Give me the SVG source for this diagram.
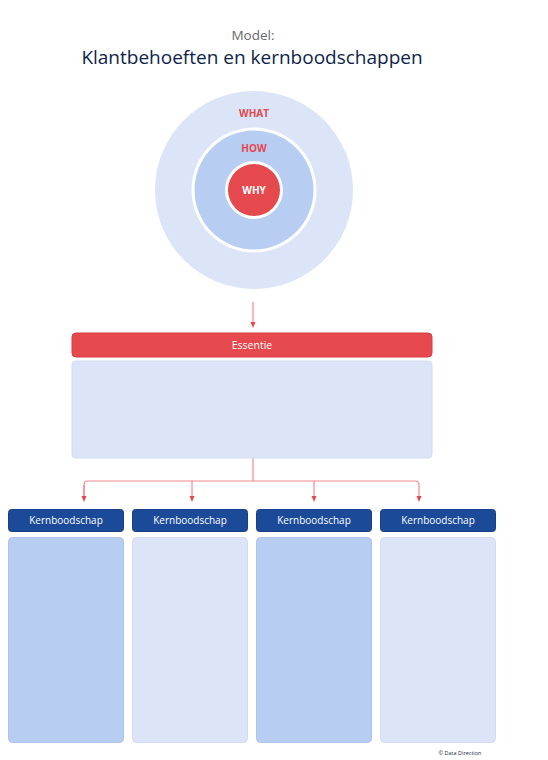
<svg xmlns="http://www.w3.org/2000/svg" width="548" height="760" viewBox="0 0 548 760">
<defs>
<style>
.t{font-family:"Open Sans","Noto Sans","Liberation Sans",sans-serif}
.lbl{font-family:"Open Sans","Noto Sans","Liberation Sans",sans-serif;font-weight:bold;font-size:10px;text-anchor:middle;fill:#e5484d}
.kh{fill:#1b4a98;stroke:#163f85;stroke-width:1}
.kt{font-family:"Open Sans","Noto Sans","Liberation Sans",sans-serif;font-size:10px;fill:#ffffff;text-anchor:middle}
.light{fill:#dbe5f7;stroke:#d0dcf2;stroke-width:1}
.mid{fill:#b8cdf2;stroke:#adc3ec;stroke-width:1}
.con{fill:none;stroke:#f0898c;stroke-width:1.2}
</style>
<marker id="ah" markerWidth="6" markerHeight="6" refX="3" refY="3" orient="auto" markerUnits="userSpaceOnUse">
<path d="M0,0.5 L6,3 L0,5.5 Z" fill="#e5484d"/>
</marker>
</defs>
<rect width="548" height="760" fill="#ffffff"/>
<g id="title">
<text class="t" x="253" y="40" font-size="13.5" fill="#666a70" text-anchor="middle">Model:</text>
<text class="t" x="252" y="64" font-size="19" fill="#0f1f4b" text-anchor="middle">Klantbehoeften en kernboodschappen</text>
</g>
<g id="circles">
<circle cx="254" cy="190" r="99" fill="#dbe5f7"/>
<circle cx="254" cy="190" r="62.5" fill="#ffffff"/>
<circle cx="254" cy="190" r="59.5" fill="#b8cdf2"/>
<circle cx="254" cy="190" r="29" fill="#ffffff"/>
<circle cx="254" cy="190" r="26" fill="#e5484d"/>
<text class="lbl" x="254" y="117">WHAT</text>
<text class="lbl" x="254" y="152">HOW</text>
<text class="lbl" x="254" y="194" style="fill:#ffffff">WHY</text>
</g>
<g id="connectors">
<line class="con" x1="253" y1="302" x2="253" y2="325" marker-end="url(#ah)"/>
<path class="con" d="M253,458 V481"/>
<path class="con" d="M84,499 V485 Q84,481 88,481 H415 Q419,481 419,485 V499" marker-end="url(#ah)"/>
<path class="con" d="M84,485 V499" marker-end="url(#ah)"/>
<line class="con" x1="192" y1="481" x2="192" y2="499" marker-end="url(#ah)"/>
<line class="con" x1="314" y1="481" x2="314" y2="499" marker-end="url(#ah)"/>
</g>
<g id="essentie">
<rect x="72" y="333" width="360" height="24" rx="4" fill="#e5484d" stroke="#d83c42" stroke-width="1"/>
<text class="t" x="252" y="349" font-size="10.5" fill="#ffffff" text-anchor="middle">Essentie</text>
<rect class="light" x="72" y="361" width="360" height="97" rx="4"/>
</g>
<g id="k1">
<rect class="kh" x="8.5" y="509.5" width="115" height="22" rx="3"/>
<text class="kt" x="66" y="524">Kernboodschap</text>
<rect class="mid" x="8.5" y="537.5" width="115" height="205" rx="4"/>
</g>
<g id="k2">
<rect class="kh" x="132.5" y="509.5" width="115" height="22" rx="3"/>
<text class="kt" x="190" y="524">Kernboodschap</text>
<rect class="light" x="132.5" y="537.5" width="115" height="205" rx="4"/>
</g>
<g id="k3">
<rect class="kh" x="256.5" y="509.5" width="115" height="22" rx="3"/>
<text class="kt" x="314" y="524">Kernboodschap</text>
<rect class="mid" x="256.5" y="537.5" width="115" height="205" rx="4"/>
</g>
<g id="k4">
<rect class="kh" x="380.5" y="509.5" width="115" height="22" rx="3"/>
<text class="kt" x="438" y="524">Kernboodschap</text>
<rect class="light" x="380.5" y="537.5" width="115" height="205" rx="4"/>
</g>
<text class="t" x="460" y="755" font-size="5.5" fill="#1f2a44" text-anchor="middle">© Data Direction</text>
</svg>
